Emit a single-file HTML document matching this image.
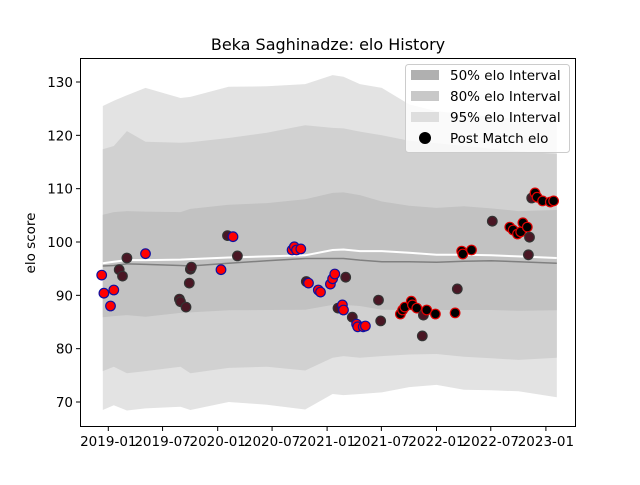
<!DOCTYPE html>
<html><head><meta charset="utf-8"><style>
body{margin:0;background:#fff}
svg text{font-family:"DejaVu Sans","Liberation Sans",sans-serif}
</style></head><body>
<svg id="chart" width="640" height="480" xmlns="http://www.w3.org/2000/svg">
<rect width="640" height="480" fill="#fff"/>
<text x="328" y="50" font-size="16" text-anchor="middle">Beka Saghinadze: elo History</text>
<g id="bands"></g><g id="lines"></g><g id="points"></g>
<rect x="80.5" y="58.5" width="495" height="368" fill="none" stroke="#000" stroke-width="1"/>
<g id="axes"></g>
<text transform="translate(35,243) rotate(-90)" font-size="13.5" text-anchor="middle">elo score</text>
<g>
<rect x="405.5" y="64.5" width="164" height="88" rx="3" fill="#fff" fill-opacity="0.8" stroke="#ccc"/>
<rect x="411" y="70" width="28" height="10" fill="#b0b0b0"/>
<text x="450" y="80" font-size="13.5">50% elo Interval</text>
<rect x="411" y="91" width="28" height="10" fill="#c8c8c8"/>
<text x="450" y="101" font-size="13.5">80% elo Interval</text>
<rect x="411" y="112" width="28" height="10" fill="#dedede"/>
<text x="450" y="122" font-size="13.5">95% elo Interval</text>
<circle cx="425" cy="138" r="6" fill="#000"/>
<text x="450" y="143" font-size="13.5">Post Match elo</text>
</g>
</svg>
<script>
const bandDates=[2018.95,2019.05,2019.17,2019.34,2019.66,2019.75,2020.1,2020.45,2020.8,2021.05,2021.15,2021.3,2021.5,2021.75,2022.0,2022.25,2022.5,2022.75,2023.1];
const upper95=[125.5,126.5,127.5,128.9,127.0,127.2,129.1,129.2,129.6,131.3,131.0,129.6,128.9,125.8,124.5,124,123.5,123,122.5];
const lower95=[68.5,69.4,68.4,68.8,69.1,68.5,70.0,69.5,68.6,71.5,71.3,71.5,71.8,72.8,73.2,72.3,72.2,72.0,70.9];
const upper80=[117.4,118,120.8,118.8,118.6,118.7,119.5,120.5,121.9,121.4,121.3,120.7,120,119,118.5,118,117.5,117,116.5];
const lower80=[75.8,76.6,75.4,75.8,76.6,75.4,76.4,76.6,75.9,78.3,78.6,78.3,78.6,78.9,79,78.5,78.2,77.9,78.3];
const upper50=[105.1,105.6,105.8,105.7,105.6,106.2,107.0,107.3,108.0,109.2,109.3,108.8,107.6,106.8,106.4,106.7,106.3,105.8,106.0];
const lower50=[85.9,86.1,86.3,86.0,86.7,86.8,87.2,87.25,87.3,88.2,88.2,88.0,87.3,87.25,87.25,87.25,87.25,87.1,87.2];
const meanLine=[96.0,96.3,96.6,96.6,96.7,96.8,97.1,97.3,97.5,98.5,98.6,98.3,98.3,98.0,97.6,97.6,97.5,97.3,97.0];
const medianLine=[95.5,95.6,95.9,95.8,95.6,95.5,96.0,96.5,96.9,96.9,96.9,96.6,96.3,96.3,96.2,96.4,96.5,96.3,96.0];
const matchDates=[2018.94,2018.96,2019.02,2019.05,2019.10,2019.13,2019.17,2019.34,2019.65,2019.66,2019.71,2019.74,2019.75,2019.76,2020.03,2020.09,2020.14,2020.18,2020.68,2020.70,2020.72,2020.76,2020.81,2020.83,2020.92,2020.94,2021.03,2021.05,2021.07,2021.10,2021.14,2021.15,2021.17,2021.23,2021.27,2021.28,2021.33,2021.35,2021.47,2021.49,2021.67,2021.69,2021.71,2021.77,2021.78,2021.82,2021.88,2021.87,2021.91,2021.99,2022.17,2022.19,2022.23,2022.24,2022.32,2022.51,2022.67,2022.70,2022.74,2022.77,2022.79,2022.83,2022.85,2022.84,2022.87,2022.90,2022.92,2022.97,2023.04,2023.07];
const matchElo=[93.8,90.4,88.0,91.0,94.8,93.6,97.0,97.8,89.3,88.8,87.8,92.3,94.9,95.3,94.8,101.2,101.0,97.4,98.5,99.1,98.5,98.7,92.6,92.3,91.0,90.6,92.1,93.1,94.0,87.6,88.2,87.25,93.4,85.9,84.6,84.1,84.1,84.25,89.1,85.2,86.5,87.25,87.8,88.9,88.2,87.6,86.3,82.4,87.25,86.5,86.7,91.2,98.3,97.75,98.5,103.9,102.8,102.25,101.5,101.9,103.6,102.8,100.9,97.6,108.25,109.2,108.4,107.7,107.5,107.7];
const matchType="rrrrmmmrmmmmmmrmrmrrrrmrrrrrrmrrmmrrrrmmkkkkkkmmkkkmkkkmkkkkkkmmmkkkkk";
const yTicks=[70,80,90,100,110,120,130];
const xTicks=[2019.0,2019.496,2020.0,2020.497,2021.0,2021.496,2022.0,2022.496,2023.0];
const xTickLabels=["2019-01","2019-07","2020-01","2020-07","2021-01","2021-07","2022-01","2022-07","2023-01"];
const NS="http://www.w3.org/2000/svg";
const xs=t=>108.3+(t-2019)*109.4;
const ys=v=>402-(v-70)*5.3333;
function mk(tag,attrs,parent){const e=document.createElementNS(NS,tag);for(const k in attrs)e.setAttribute(k,attrs[k]);parent.appendChild(e);return e;}
function bandPath(up,lo){let d="M";bandDates.forEach((t,i)=>{d+=xs(t).toFixed(1)+","+ys(up[i]).toFixed(1)+" L";});for(let i=bandDates.length-1;i>=0;i--){d+=xs(bandDates[i]).toFixed(1)+","+ys(lo[i]).toFixed(1)+(i?" L":" Z");}return d;}
const bands=document.getElementById('bands');
let b=mk('path',{d:bandPath(upper95,lower95),fill:'#e3e3e3'},bands);


b=mk('path',{d:bandPath(upper80,lower80),fill:'#d1d1d1'},bands);


b=mk('path',{d:bandPath(upper50,lower50),fill:'#c2c2c2'},bands);


const lines=document.getElementById('lines');
function linePts(arr){return bandDates.map((t,i)=>xs(t).toFixed(1)+","+ys(arr[i]).toFixed(1)).join(" ");}
let l=mk('polyline',{points:linePts(medianLine),fill:'none',stroke:'#808080','stroke-width':1.5},lines);


l=mk('polyline',{points:linePts(meanLine),fill:'none',stroke:'#fff','stroke-width':2},lines);


const pts=document.getElementById('points');
const styles={r:['#ff0000','#1010a0'],m:['#4a1624','#333'],k:['#000','#e00000']};
matchDates.forEach((t,i)=>{const s=styles[matchType[i]]||styles.m;
const c=mk('circle',{cx:xs(t).toFixed(1),cy:ys(matchElo[i]).toFixed(1),r:4.8,fill:s[0],stroke:s[1],'stroke-width':1.2},pts);

});
const ax=document.getElementById('axes');
yTicks.forEach(v=>{const y=ys(v);
const tk=mk('line',{x1:76,x2:80,y1:y,y2:y,stroke:'#000'},ax);


const tx=mk('text',{x:73,y:y+5,'font-size':13.5,'text-anchor':'end'},ax);tx.textContent=v;

});
xTicks.forEach((t,i)=>{const x=xs(t);
const tk=mk('line',{x1:x,x2:x,y1:427,y2:431,stroke:'#000'},ax);


const tx=mk('text',{x:x,y:446,'font-size':13.5,'text-anchor':'middle'},ax);tx.textContent=xTickLabels[i];

});
</script>
</body></html>
